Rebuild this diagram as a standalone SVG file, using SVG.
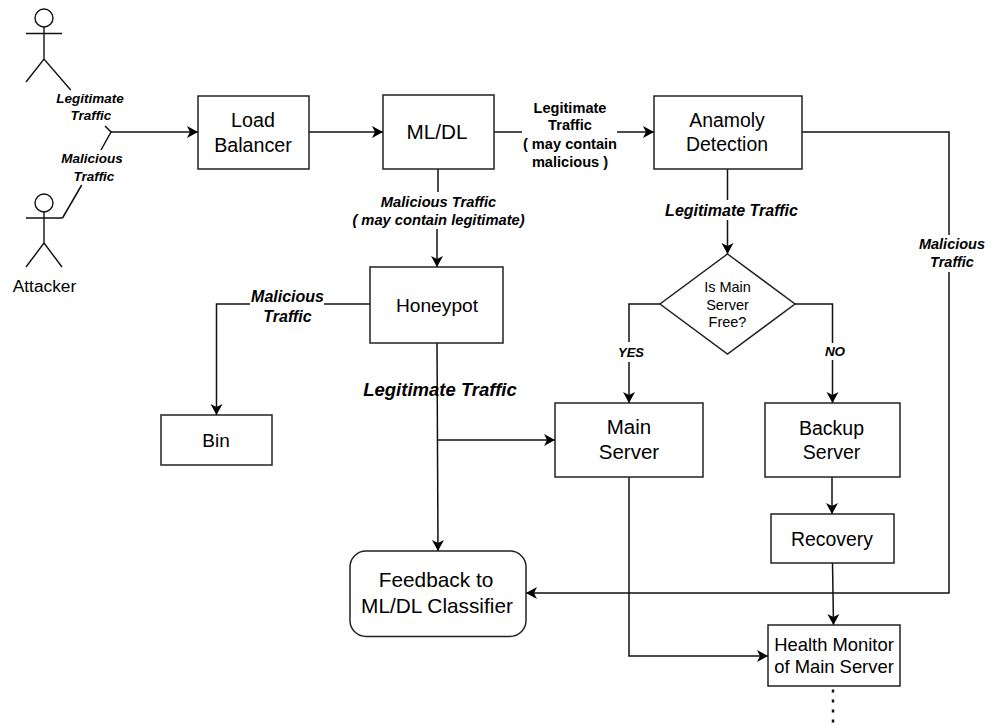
<svg xmlns="http://www.w3.org/2000/svg" width="991" height="726" viewBox="0 0 991 726">
<defs>
<marker id="arrow" markerUnits="userSpaceOnUse" markerWidth="14" markerHeight="14" refX="12" refY="6.5" orient="auto"><path d="M1 0.500 L12 6.500 L1 12.500 L4 6.500 Z" fill="#000"/></marker>
</defs>
<style>
text{font-family:"Liberation Sans",Arial,sans-serif;fill:#000;text-anchor:middle}
.box{fill:#fff;stroke:#222;stroke-width:1.5}
.l{font-weight:bold;font-style:italic}
.b{font-size:14.6px;font-weight:bold}
.c{fill:none;stroke:#111;stroke-width:1.5}
.a{marker-end:url(#arrow)}
.s{fill:none;stroke:#111;stroke-width:1.4}
</style>
<rect width="991" height="726" fill="#fff"/>
<g id="connectors">
<path class="c" d="M105 126 L111 132 L101 150"/>
<path class="c" d="M81.700 185 L62.500 218"/>
<path class="c a" d="M111 132 H198"/>
<path class="c a" d="M309 132 H383"/>
<path class="c" d="M494 132 H522"/>
<path class="c a" d="M617 132 H654"/>
<path class="c" d="M438 169 V192"/>
<path class="c a" d="M437 229 V267"/>
<path class="c" d="M727.500 169 V200"/>
<path class="c a" d="M727.500 220 V254"/>
<path class="c" d="M802 132 H949 V235"/>
<path class="c a" d="M949 272 V593 H526"/>
<path class="c" d="M370 304 H324"/>
<path class="c a" d="M250 304 H216.500 V415"/>
<path class="c a" d="M437 343 L438 551"/>
<path class="c a" d="M437 440 H555"/>
<path class="c" d="M660 304 H629 V342"/>
<path class="c a" d="M629 362 V403"/>
<path class="c" d="M795 304 H832.500 V343"/>
<path class="c a" d="M832.500 360 V403"/>
<path class="c a" d="M832 477 V514"/>
<path class="c a" d="M832.500 563 L833.500 625"/>
<path class="c a" d="M629 477 V656 H768"/>
<path d="M833 689.500 V724" fill="none" stroke="#111" stroke-width="2.5" stroke-dasharray="3 7"/>
</g>
<g id="actor-legitimate">
<circle class="s" cx="44" cy="18" r="9"/>
<path class="s" d="M26 33.500 H62 M44 27 V59 M26 82 L44 59 L70.700 90"/>
</g>
<g id="actor-attacker">
<circle class="s" cx="44" cy="203" r="9"/>
<path class="s" d="M26 218 H62.500 M44 212 V243 M26 267 L44 243 L62 267"/>
<text x="44.500" y="292" style="font-size:17.300px">Attacker</text>
</g>
<g id="load-balancer" style="font-size:19.700px"><rect class="box" x="198" y="96" width="111" height="73"/><text x="253" y="127">Load</text><text x="253" y="152">Balancer</text></g>
<g id="ml-dl" style="font-size:20.700px"><rect class="box" x="383" y="95" width="111" height="74"/><text x="437" y="138.500">ML/DL</text></g>
<g id="anomaly" style="font-size:19.400px"><rect class="box" x="654" y="96" width="148" height="73"/><text x="727" y="127">Anamoly</text><text x="727" y="151">Detection</text></g>
<g id="honeypot" style="font-size:19.200px"><rect class="box" x="370" y="267" width="133" height="76"/><text x="437" y="312">Honeypot</text></g>
<g id="decision" style="font-size:14.500px"><path class="box" d="M727.500 254 L795 304 L727.500 354 L660 304 Z"/><text x="727.500" y="292">Is Main</text><text x="727.500" y="309.500">Server</text><text x="727.500" y="327">Free?</text></g>
<g id="bin" style="font-size:19px"><rect class="box" x="161" y="415" width="111" height="50"/><text x="216" y="447">Bin</text></g>
<g id="main-server" style="font-size:20.500px"><rect class="box" x="555" y="403" width="148" height="74"/><text x="629" y="434">Main</text><text x="629" y="459">Server</text></g>
<g id="backup-server" style="font-size:19.500px"><rect class="box" x="765" y="403" width="135" height="74"/><text x="831.500" y="435">Backup</text><text x="831.500" y="459">Server</text></g>
<g id="recovery" style="font-size:19.400px"><rect class="box" x="771" y="514" width="123" height="49"/><text x="832" y="545.500">Recovery</text></g>
<g id="feedback" style="font-size:20.800px"><rect class="box" x="350" y="551" width="176" height="85.500" rx="16"/><text x="436" y="587">Feedback to</text><text x="437" y="613">ML/DL Classifier</text></g>
<g id="health-monitor" style="font-size:18.400px"><rect class="box" x="768" y="625" width="132" height="61"/><text x="834" y="651">Health Monitor</text><text x="834" y="673">of Main Server</text></g>
<g id="labels">
<text class="l" x="90" y="103" style="font-size:13.500px">Legitimate</text><text class="l" x="91" y="120" style="font-size:13.500px">Traffic</text>
<text class="l" x="92" y="163" style="font-size:13.500px">Malicious</text><text class="l" x="94" y="181" style="font-size:13.500px">Traffic</text>
<text class="b" x="570" y="113">Legitimate</text><text class="b" x="570" y="130">Traffic</text><text class="b" x="570" y="148.500">( may contain</text><text class="b" x="570" y="166.500">malicious )</text>
<text class="l" x="438.500" y="207" style="font-size:14.700px">Malicious Traffic</text><text class="l" x="438.500" y="225" style="font-size:14.700px">( may contain legitimate)</text>
<text class="l" x="731.500" y="216" style="font-size:16px">Legitimate Traffic</text>
<text class="l" x="952" y="248.500" style="font-size:14.500px">Malicious</text><text class="l" x="952" y="267" style="font-size:14.500px">Traffic</text>
<text class="l" x="287.500" y="302" style="font-size:16px">Malicious</text><text class="l" x="287.500" y="322" style="font-size:16px">Traffic</text>
<text class="l" x="440" y="396" style="font-size:18.500px">Legitimate Traffic</text>
<text class="l" x="631" y="357" style="font-size:13px">YES</text>
<text class="l" x="835" y="356" style="font-size:13.500px">NO</text>
</g>
</svg>
